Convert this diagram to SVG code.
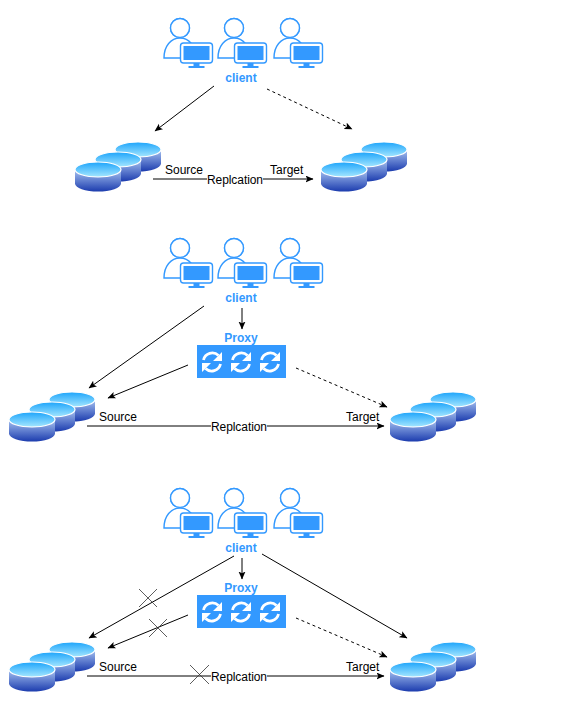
<svg xmlns="http://www.w3.org/2000/svg" width="569" height="712" viewBox="0 0 569 712">
<style>
text{font-family:"Liberation Sans",Arial,sans-serif;font-size:12px;fill:#000}
.lbl{fill:#3399ff;font-weight:bold;text-anchor:middle}
.c{fill:none;stroke:#000;stroke-width:1}
.d{stroke-dasharray:3 3}
.x{fill:none;stroke:#333;stroke-width:.8}
</style>
<defs>
<marker id="a" markerWidth="9" markerHeight="8" refX="7.500" refY="3.500" orient="auto" markerUnits="userSpaceOnUse"><path d="M0 0L8 3.500L0 7L1.800 3.500Z" fill="#000"/></marker>
<linearGradient id="top" x1="0" y1="0" x2="0" y2="1"><stop offset="0" stop-color="#1ea5fb"/><stop offset="1" stop-color="#a4e6ff"/></linearGradient>
<linearGradient id="side" x1="0" y1="0" x2="0" y2="1"><stop offset="0" stop-color="#a8c4f2"/><stop offset="1" stop-color="#1c3cae"/></linearGradient>
<g id="user">
<circle cx="17" cy="-18" r="9.500" fill="#fff" stroke="#3399ff" stroke-width="1.400"/>
<path d="M1 12C1 0 8 -8 17 -8S33 0 33 12Z" fill="#fff" stroke="#3399ff" stroke-width="1.400"/>
<circle cx="17" cy="-18" r="9.500" fill="#fff" stroke="#3399ff" stroke-width="1.400"/>
<rect x="17.500" y="-3" width="32" height="20" rx="3" fill="#fff" stroke="#3399ff" stroke-width="1.400"/>
<rect x="20.500" y="0" width="26" height="14" fill="#3399ff"/>
<path d="M30.500 17h6v3h5v2h-16v-2h5z" fill="#3399ff"/>
</g>
<g id="cyl">
<path d="M0 7.500V21.500A23 8 0 0 0 46 21.500V7.500Z" fill="url(#side)"/>
<ellipse cx="23" cy="7.500" rx="23" ry="7.500" fill="url(#top)" stroke="#fff" stroke-width="1.200"/>
</g>
<g id="db"><use href="#cyl" x="40" y="-20"/><use href="#cyl" x="20" y="-10"/><use href="#cyl"/></g>
<g id="sync">
<path d="M-8.500 -2A9 9 0 0 1 6.500 -6.500" fill="none" stroke="#fff" stroke-width="2.800"/>
<path d="M8.500 2A9 9 0 0 1 -6.500 6.500" fill="none" stroke="#fff" stroke-width="2.800"/>
<path d="M10 -10V-1H1Z M-10 10V1H-1Z" fill="#fff"/>
</g>
</defs>

<g id="connectors">
<path class="c" d="M214 86L155 131" marker-end="url(#a)"/>
<path class="c d" d="M267 89L352 129" marker-end="url(#a)"/>
<path class="c" d="M153 179H207M263 179H313" marker-end="url(#a)"/>
<path class="c" d="M204 306L89 388" marker-end="url(#a)"/>
<path class="c" d="M242 308V329" marker-end="url(#a)"/>
<path class="c" d="M188 365L108 398" marker-end="url(#a)"/>
<path class="c d" d="M296 368L387 407" marker-end="url(#a)"/>
<path class="c" d="M87 426H211M267 426H384" marker-end="url(#a)"/>
<path class="c" d="M234 556L89 638" marker-end="url(#a)"/>
<path class="c" d="M242 558V579" marker-end="url(#a)"/>
<path class="c" d="M262 554L407 638" marker-end="url(#a)"/>
<path class="c" d="M188 615L108 648" marker-end="url(#a)"/>
<path class="c d" d="M296 618L387 657" marker-end="url(#a)"/>
<path class="c" d="M87 676H211M267 676H384" marker-end="url(#a)"/>
<path class="x" d="M139 589L157 607M157 589L139 607"/>
<path class="x" d="M149 619L167 637M167 619L149 637"/>
<path class="x" d="M190 665L209 684M209 665L190 684"/>
</g>

<g id="clients1"><use href="#user" x="163" y="46"/><use href="#user" x="217" y="46"/><use href="#user" x="273" y="46"/><text class="lbl" x="241" y="82">client</text></g>
<g id="db1a"><use href="#db" x="75" y="162"/></g>
<g id="db1b"><use href="#db" x="321" y="162"/></g>
<g id="labels1"><text x="165" y="174">Source</text><text x="270" y="174">Target</text><text x="207" y="184" textLength="56">Replcation</text></g>

<g id="clients2"><use href="#user" x="163" y="266"/><use href="#user" x="217" y="266"/><use href="#user" x="273" y="266"/><text class="lbl" x="241" y="302">client</text></g>
<g id="proxy2"><text class="lbl" x="241" y="342">Proxy</text><rect x="197" y="345" width="89" height="33" fill="#3399ff"/><use href="#sync" x="212" y="362"/><use href="#sync" x="241" y="362"/><use href="#sync" x="270" y="362"/></g>
<g id="db2a"><use href="#db" x="9" y="412"/></g>
<g id="db2b"><use href="#db" x="390" y="412"/></g>
<g id="labels2"><text x="99" y="421">Source</text><text x="346" y="421">Target</text><text x="211" y="431" textLength="56">Replcation</text></g>

<g id="clients3"><use href="#user" x="163" y="516"/><use href="#user" x="217" y="516"/><use href="#user" x="273" y="516"/><text class="lbl" x="241" y="552">client</text></g>
<g id="proxy3"><text class="lbl" x="241" y="592">Proxy</text><rect x="197" y="595" width="89" height="33" fill="#3399ff"/><use href="#sync" x="212" y="612"/><use href="#sync" x="241" y="612"/><use href="#sync" x="270" y="612"/></g>
<g id="db3a"><use href="#db" x="9" y="662"/></g>
<g id="db3b"><use href="#db" x="390" y="662"/></g>
<g id="labels3"><text x="99" y="671">Source</text><text x="346" y="671">Target</text><text x="211" y="681" textLength="56">Replcation</text></g>
</svg>
